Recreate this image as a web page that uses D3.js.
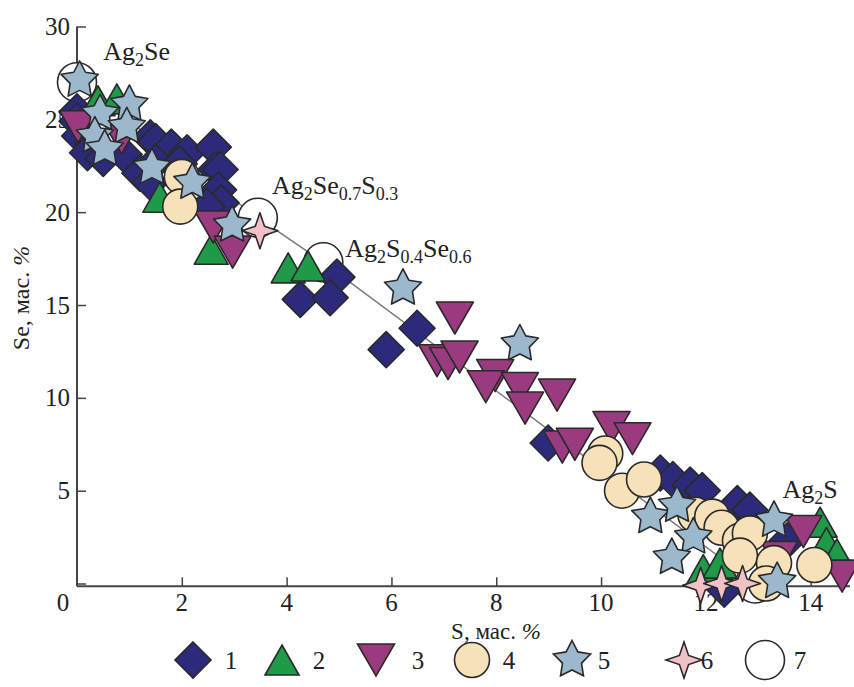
<!DOCTYPE html>
<html>
<head>
<meta charset="utf-8">
<script src="https://cdn.jsdelivr.net/npm/d3@7/dist/d3.min.js"></script>
<style>
  html, body { margin: 0; padding: 0; background: #fff; }
  svg { display: block; }
  svg text { font-family: 'Liberation Serif', 'DejaVu Serif', 'Times New Roman', Times, serif; fill: #222; }
</style>
</head>
<body>
<svg id="chart" width="854" height="687" font-family="Liberation Serif, DejaVu Serif, serif"></svg>
<script>
// ---------- DATA (S, mass %; Se, mass %) ----------
const series1 = [ // diamonds
  [0.0, 25.4], [0.0, 24.9], [0.05, 24.1], [0.3, 23.7], [0.2, 23.2], [0.5, 22.9], [0.9, 23.1],
  [1.4, 24.0], [1.5, 23.8], [1.8, 23.5], [2.1, 23.2], [2.6, 23.5], [2.65, 22.3], [1.5, 22.7],
  [1.2, 22.1], [1.4, 21.6], [1.95, 22.6], [2.73, 22.3], [2.7, 21.2], [2.75, 20.5], [2.48, 20.3],
  [4.96, 16.5], [4.26, 15.3], [4.83, 15.4], [6.49, 13.75], [5.9, 12.6], [8.99, 7.57],
  [11.13, 5.95], [11.37, 5.6], [11.7, 5.3], [11.93, 5.0], [12.6, 4.3], [12.84, 3.95],
  [13.55, 2.3], [12.35, -0.3]
];
const series2 = [ // triangles up
  [0.4, 26.0], [0.76, 26.1], [1.58, 20.8], [2.56, 18.0], [4.03, 17.0], [4.41, 17.1],
  [11.95, 0.75], [12.27, 1.1], [14.18, 3.3], [14.3, 2.2], [14.5, 1.6]
];
const series3 = [ // triangles down
  [0.02, 24.6], [0.85, 24.0], [2.6, 19.2], [2.97, 17.85], [7.21, 14.3], [6.87, 12.0], [7.08, 11.85],
  [7.3, 12.2], [7.98, 11.2], [7.8, 10.6], [8.45, 10.5], [9.16, 10.15], [8.55, 9.45],
  [9.26, 7.35], [9.5, 7.5], [10.2, 8.4], [10.6, 7.8], [13.86, 2.8], [13.4, 1.4], [14.6, 0.4]
];
const series4 = [ // beige circles
  [2.0, 21.9], [1.97, 20.3], [10.08, 7.0], [9.97, 6.5], [10.4, 5.0], [10.82, 5.6],
  [11.8, 3.7], [12.12, 3.6], [12.3, 3.0], [12.65, 2.3], [12.84, 2.7], [12.65, 1.5],
  [13.3, 1.1], [14.07, 1.0], [13.15, 0.0]
];
const series5 = [ // five-point stars
  [0.05, 27.1], [0.44, 25.3], [1.0, 25.8], [0.95, 24.6], [0.34, 24.1], [0.53, 23.4],
  [1.43, 22.4], [2.2, 21.6], [2.96, 19.3], [6.22, 15.9], [8.45, 12.9], [10.94, 3.6],
  [11.45, 4.2], [11.76, 2.5], [11.35, 1.4], [13.3, 3.4], [13.36, 0.1]
];
const series6 = [ // four-point stars
  [3.49, 19.0], [11.9, -0.1], [12.3, 0.0], [12.7, 0.0]
];
const series7 = [ // open circles: ideal compositions
  [0.0, 27.0], [3.45, 19.7], [4.7, 17.3], [12.94, 0.0]
];
const phaseLabels = [
  { base: "Ag", parts: [["2", true], ["Se", false]], at: [0.5, 28.2] },
  { base: "Ag", parts: [["2", true], ["Se", false], ["0.7", true], ["S", false], ["0.3", true]], at: [3.72, 21.0] },
  { base: "Ag", parts: [["2", true], ["S", false], ["0.4", true], ["Se", false], ["0.6", true]], at: [5.12, 17.6] },
  { base: "Ag", parts: [["2", true], ["S", false]], at: [13.46, 4.6] }
];
const xTicks = [2, 4, 6, 8, 10, 12, 14];
const yTicks = [0, 5, 10, 15, 20, 25, 30];
const legendNames = ["1", "2", "3", "4", "5", "6", "7"];

// ---------- LAYOUT ----------
const FONT = "'Liberation Serif', 'DejaVu Serif', serif";
const svg = d3.select("#chart");
const x = d3.scaleLinear().domain([0, 14.75]).range([77, 850]);
const y = d3.scaleLinear().domain([-0.15, 30]).range([586.3, 26.5]);

const STROKE = "#2a2a2a";
function diamond(r) { return `M0,${-r}L${r},0L0,${r}L${-r},0Z`; }
function triUp(w, h) { return `M0,${-h/2}L${w/2},${h/2}L${-w/2},${h/2}Z`; }
function triDown(w, h) { return `M${-w/2},${-h/2}L${w/2},${-h/2}L0,${h/2}Z`; }
function circ(r) { return `M${r},0A${r},${r} 0 1,1 ${-r},0A${r},${r} 0 1,1 ${r},0Z`; }
function star(n, ro, ri) {
  let p = [];
  for (let i = 0; i < 2 * n; i++) {
    const a = -Math.PI / 2 + i * Math.PI / n;
    const r = i % 2 === 0 ? ro : ri;
    p.push([r * Math.cos(a), r * Math.sin(a)]);
  }
  return "M" + p.map(d => d[0].toFixed(2) + "," + d[1].toFixed(2)).join("L") + "Z";
}

const styles = [
  { data: series1, path: diamond(18), fill: "#2c2a7a" },
  { data: series2, path: triUp(34, 30), fill: "#1f9a48" },
  { data: series3, path: triDown(37, 32), fill: "#9a3b7f" },
  { data: series4, path: circ(17.5), fill: "#f6e1b8" },
  { data: series5, path: star(5, 19.5, 10), fill: "#9cb8cd" },
  { data: series6, path: star(4, 18, 6.5), fill: "#f2c0c7" },
  { data: series7, path: circ(19.5), fill: "#ffffff" }
];

function txt(sel) { return sel.attr("font-family", FONT).style("font-family", FONT); }

// ---------- AXES ----------
const axisColor = "#444";
const gx = svg.append("g").attr("transform", `translate(0,${y(-0.15)})`)
  .call(d3.axisTop(x).tickValues(xTicks).tickSize(9).tickFormat(""));
gx.select(".domain").attr("stroke", axisColor).attr("stroke-width", 2)
  .attr("d", `M${x(0)},0H${x(14.75)}`);
gx.selectAll(".tick line").attr("stroke", axisColor).attr("stroke-width", 1.5);
txt(svg.append("g").selectAll("text").data(xTicks).join("text")
  .attr("x", d => x(d)).attr("y", 611).attr("text-anchor", "middle")
  .attr("font-size", 25).text(d => d));
txt(svg.append("text").attr("x", 63).attr("y", 611).attr("text-anchor", "middle")
  .attr("font-size", 25).text("0"));

const gy = svg.append("g").attr("transform", `translate(${x(0)},0)`)
  .call(d3.axisRight(y).tickValues(yTicks).tickSize(9).tickFormat(""));
gy.select(".domain").attr("stroke", axisColor).attr("stroke-width", 2)
  .attr("d", `M0,${y(30)}V${y(-0.15)}`);
gy.selectAll(".tick line").attr("stroke", axisColor).attr("stroke-width", 1.5);
txt(svg.append("g").selectAll("text").data(yTicks.filter(d => d > 0)).join("text")
  .attr("x", 70).attr("y", d => y(d) + 8.5).attr("text-anchor", "end")
  .attr("font-size", 25).text(d => d));

// axis titles
const xt = txt(svg.append("text").attr("x", 496).attr("y", 639).attr("text-anchor", "middle").attr("font-size", 23));
xt.append("tspan").text("S, мас. ");
xt.append("tspan").attr("font-style", "italic").text("%");
const yt = txt(svg.append("text").attr("transform", "translate(29,298) rotate(-90)")
  .attr("text-anchor", "middle").attr("font-size", 24));
yt.append("tspan").text("Se, мас. ");
yt.append("tspan").attr("font-style", "italic").text("%");

// ---------- TIE LINE ----------
svg.append("path")
  .datum(series7)
  .attr("d", d3.line().x(d => x(d[0])).y(d => y(d[1])))
  .attr("fill", "none").attr("stroke", "#7a7a7a").attr("stroke-width", 1.5);

// ---------- MARKERS ----------
const drawOrder = [6, 0, 1, 2, 3, 4, 5];
drawOrder.forEach(i => {
  const s = styles[i];
  svg.append("g").selectAll("path").data(s.data).join("path")
    .attr("transform", d => `translate(${x(d[0])},${y(d[1])})`)
    .attr("d", s.path).attr("fill", s.fill)
    .attr("stroke", STROKE).attr("stroke-width", 1.6).attr("stroke-linejoin", "round");
});

// ---------- PHASE LABELS ----------
phaseLabels.forEach(l => {
  const t = txt(svg.append("text").attr("x", x(l.at[0])).attr("y", y(l.at[1])).attr("font-size", 26));
  t.append("tspan").text(l.base);
  l.parts.forEach(([s, sub]) => {
    if (sub) t.append("tspan").attr("font-size", 18).attr("dy", 6).text(s);
    else t.append("tspan").attr("font-size", 26).attr("dy", -6).text(s);
  });
});

// ---------- LEGEND ----------
const legendMarkX = [193, 282, 376, 472, 572, 684, 765];
const legendTextX = [231, 319, 418, 509, 604, 707, 800];
const lg = svg.append("g");
styles.forEach((s, i) => {
  lg.append("path").attr("transform", `translate(${legendMarkX[i]},660)`)
    .attr("d", s.path).attr("fill", s.fill).attr("stroke", STROKE).attr("stroke-width", 1.6);
  txt(lg.append("text").attr("x", legendTextX[i]).attr("y", 669).attr("text-anchor", "middle")
    .attr("font-size", 25).text(legendNames[i]));
});
</script>
</body>
</html>
